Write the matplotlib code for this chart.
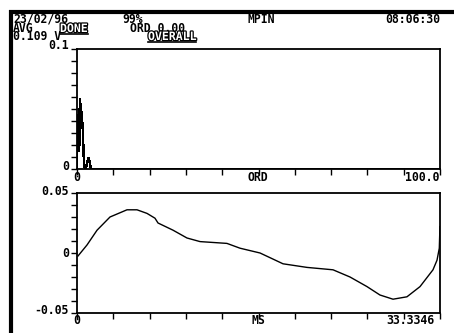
import matplotlib
matplotlib.use("Agg")
import matplotlib.pyplot as plt
import matplotlib.patheffects as pe
from matplotlib.lines import Line2D

# ------------ Data ---------------
# spectrum (ORD vs V)
ord_x = [0.0, 0.25, 0.4, 0.55, 0.7, 0.85, 1.0, 1.3, 1.6, 1.9, 2.2, 2.5, 2.8, 3.2, 3.6, 3.9, 100.0]
ord_y = [0.0, 0.045, 0.015, 0.05, 0.02, 0.058, 0.05, 0.047, 0.032, 0.006, 0.0, 0.001, 0.006, 0.009, 0.004, 0.0, 0.0]

# waveform (MS vs V)
ms_x = [0.09, 0.92, 1.84, 3.03, 4.59, 5.51, 6.43, 7.16, 7.44, 8.82, 10.10, 11.30, 13.77,
        14.97, 16.81, 18.92, 21.12, 23.51, 25.07, 26.63, 27.82, 29.02, 30.30, 31.50,
        32.69, 33.06, 33.27, 33.33]
ms_y = [-0.0025, 0.0067, 0.019, 0.030, 0.036, 0.036, 0.033, 0.029, 0.025, 0.019, 0.0125,
        0.0095, 0.008, 0.004, 0.0, -0.009, -0.012, -0.014, -0.020, -0.028, -0.035,
        -0.0385, -0.0365, -0.028, -0.014, -0.006, 0.004, 0.022]

header = [("23/02/96", 13, 23), ("99%", 122, 23), ("MPIN", 248, 23), ("08:06:30", 385, 23),
          ("AVG", 13, 32), ("ORD 0.00", 130, 32), ("0.109 V", 13, 40)]
boxed = [("DONE", 60, 32), ("OVERALL", 148, 40)]

W, H = 454, 333
FONT = dict(family="DejaVu Sans Mono", weight="bold", fontsize=8.3, color="black")

fig = plt.figure(figsize=(W / 100, H / 100), dpi=100)
fig.patch.set_facecolor("white")


def ftext(s, x, y, ha="left", va="baseline", **kw):
    opts = dict(FONT)
    opts.update(kw)
    return fig.text(x / W, 1 - y / H, s, ha=ha, va=va, **opts)


def make_ax(top_px):
    ax = fig.add_axes([77 / W, 1 - (top_px + 120) / H, 363 / W, 120 / H])
    for sp in ax.spines.values():
        sp.set_linewidth(1.3)
    ax.tick_params(direction="out", length=4, width=1, labelleft=False, labelbottom=False)
    return ax


# ------------ Top: spectrum ---------------
ax1 = make_ax(49)
ax1.plot(ord_x, ord_y, color="black", lw=1, antialiased=False)
ax1.set_xlim(0, 100)
ax1.set_ylim(0, 0.1)
ax1.set_xticks([i * 10 for i in range(11)])
ax1.set_yticks([i * 0.01 for i in range(11)])

# ------------ Bottom: waveform ---------------
ax2 = make_ax(193)
ax2.plot(ms_x, ms_y, color="black", lw=1)
ax2.set_xlim(0, 33.3346)
ax2.set_ylim(-0.05, 0.05)
ax2.set_xticks([33.3346 * i / 10 for i in range(11)])
ax2.set_yticks([-0.05 + i * 0.01 for i in range(11)])

# ------------ Labels ---------------
ftext("0.1", 69, 49, ha="right")
ftext("0", 69, 170, ha="right")
ftext("0", 77, 181, ha="center")
ftext("ORD", 258, 181, ha="center")
ftext("100.0", 405, 181)

ftext("0.05", 69, 195, ha="right")
ftext("0", 69, 257, ha="right")
ftext("-0.05", 69, 314, ha="right")
ftext("0", 77, 324, ha="center")
ftext("MS", 258, 324, ha="center")
ftext("33.3346", 386, 324)

for s, x, y in header:
    ftext(s, x, y)

fig.canvas.draw()
rend = fig.canvas.get_renderer()
for s, x, y in boxed:
    t = ftext(s, x, y, color="white",
              path_effects=[pe.withStroke(linewidth=1.8, foreground="black")])
    bb = t.get_window_extent(renderer=rend)
    fig.add_artist(Line2D([bb.x0 / W, bb.x1 / W], [1 - (y + 2) / H] * 2,
                          color="black", lw=1.2, transform=fig.transFigure))

# thick screen frame (top and left)
fig.add_artist(Line2D([9 / W, 1.0], [1 - 11.5 / H] * 2, color="black", lw=3,
                      transform=fig.transFigure, solid_capstyle="butt"))
fig.add_artist(Line2D([11.3 / W] * 2, [1 - 10 / H, 0.0], color="black", lw=3,
                      transform=fig.transFigure, solid_capstyle="butt"))

fig.savefig("out.png", dpi=100)
